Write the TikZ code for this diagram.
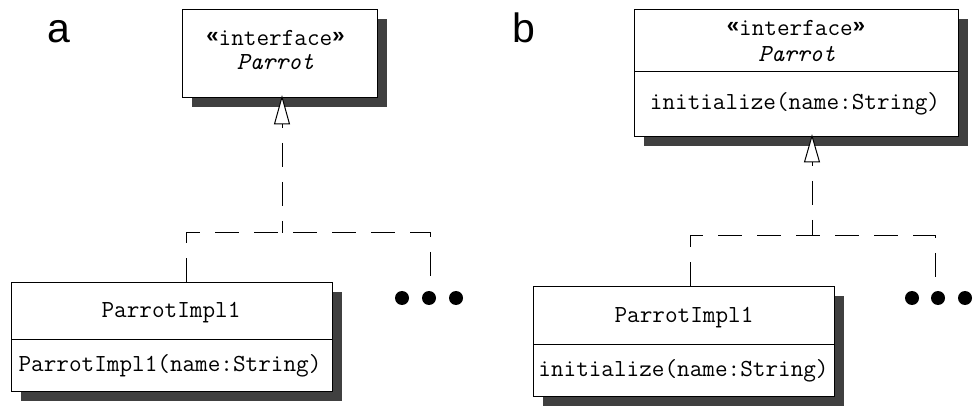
\documentclass[tikz,border=0pt]{standalone}
\usepackage{fontspec}
\setmainfont{Liberation Sans}
\setsansfont{Liberation Sans}
\newfontfamily\guilfont{Liberation Sans}
\definecolor{shadowgray}{HTML}{404040}
\tikzset{
  umlbox/.style={draw=black, line width=1pt, fill=white, inner sep=0pt, anchor=north west},
  shadowbox/.style={fill=shadowgray, draw=none},
  mono/.style={font=\fontsize{24.5}{28}\selectfont\ttfamily, inner sep=0pt, anchor=base},
  monoit/.style={font=\fontsize{24.5}{28}\selectfont\ttfamily\itshape, inner sep=0pt, anchor=base},
  panellabel/.style={font=\fontsize{41}{45}\selectfont\sffamily, inner sep=0pt, anchor=base west},
  realize/.style={line width=1pt, dash pattern=on 24pt off 15pt},
  openhead/.style={line width=1pt, fill=white, line join=miter},
  dot/.style={circle, fill=black, minimum size=14pt, inner sep=0pt}
}
\newcommand{\guil}[1]{{\fontsize{22}{24}\selectfont\guilfont\bfseries\raisebox{3pt}{#1}}}
\begin{document}
\begin{tikzpicture}[x=1pt,y=-1pt]
\useasboundingbox (0,0) rectangle (975,406);

% ---------------- panel a ----------------
\node[panellabel] (la) at (47,43) {a};

% interface box a
\fill[shadowbox] (192,19) rectangle (387,107);
\node[umlbox, minimum width=195pt, minimum height=88pt] (ia) at (182,9) {};
\node[mono] (ia1) at (275.5,45.5) {\guil{«}interface\guil{»}};
\node[monoit] (ia2) at (275.5,70) {Parrot};

% impl box a
\fill[shadowbox] (21,292) rectangle (342,401);
\node[umlbox, minimum width=321pt, minimum height=109pt] (ca) at (11,282) {};
\draw[line width=1pt] (ca.west |- 0,339) -- (ca.east |- 0,339);
\node[mono] (ca1) at (171,317) {ParrotImpl1};
\node[mono] (ca2) at (170,371.5) {ParrotImpl1(name:String)};

% realization a
\coordinate (tipa) at (282,97);
\coordinate (basea) at (282,124);
\coordinate (ja) at (282,233);
\coordinate (lja) at (186,233);
\coordinate (rja) at (430,233);
\coordinate (enda) at (430,278);
\draw[openhead] (tipa) -- ++(-7.5,27) -- ++(15,0) -- cycle;
\draw[realize, dash phase=20pt] (basea) -- (ja);
\draw[realize] (ca.north -| lja) -- (lja) -- (rja) -- (enda);

\node[dot] (da1) at (402,298) {};
\node[dot] (da2) at (429,298) {};
\node[dot] (da3) at (456,298) {};

% ---------------- panel b ----------------
\node[panellabel] (lb) at (512,43) {b};

% interface box b
\fill[shadowbox] (644,19) rectangle (968,146);
\node[umlbox, minimum width=324pt, minimum height=127pt] (ib) at (634,9) {};
\draw[line width=1pt] (ib.west |- 0,72) -- (ib.east |- 0,72);
\node[mono] (ib1) at (796,36) {\guil{«}interface\guil{»}};
\node[monoit] (ib2) at (797,62) {Parrot};
\node[mono] (ib3) at (795,110) {initialize(name:String)};

% impl box b
\fill[shadowbox] (543,296) rectangle (844,406);
\node[umlbox, minimum width=301pt, minimum height=110pt] (cb) at (533,286) {};
\draw[line width=1pt] (cb.west |- 0,344) -- (cb.east |- 0,344);
\node[mono] (cb1) at (684,322) {ParrotImpl1};
\node[mono] (cb2) at (683.5,376) {initialize(name:String)};

% realization b
\coordinate (tipb) at (812,136);
\coordinate (baseb) at (812,162);
\coordinate (jb) at (812,236);
\coordinate (ljb) at (690,236);
\coordinate (rjb) at (935,236);
\coordinate (endb) at (935,280);
\draw[openhead] (tipb) -- ++(-7.5,26) -- ++(15,0) -- cycle;
\draw[realize, dash phase=20pt] (baseb) -- (jb);
\draw[realize] (cb.north -| ljb) -- (ljb) -- (rjb) -- (endb);

\node[dot] (db1) at (912,298) {};
\node[dot] (db2) at (938,298) {};
\node[dot] (db3) at (965,298) {};
\end{tikzpicture}
\end{document}
